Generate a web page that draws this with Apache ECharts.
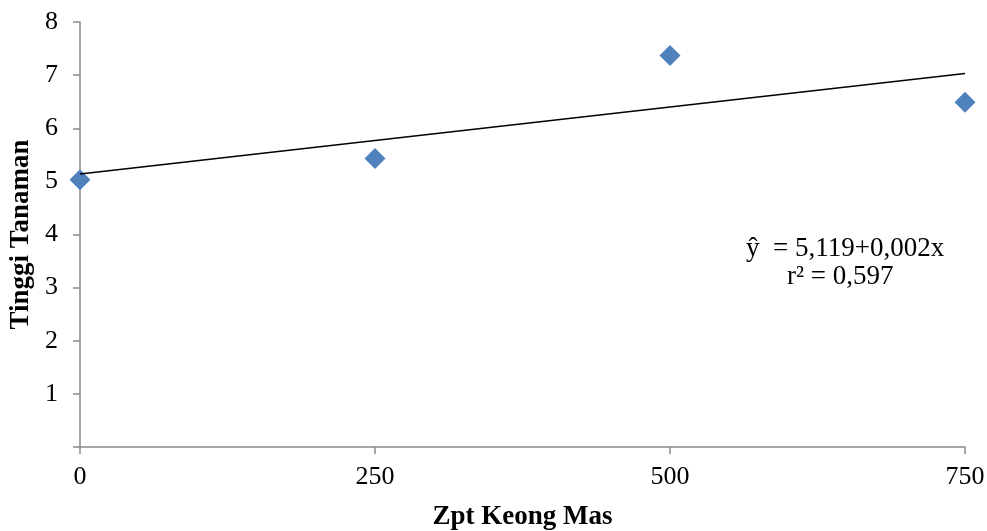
<!DOCTYPE html>
<html>
<head>
<meta charset="utf-8">
<script src="https://cdn.jsdelivr.net/npm/echarts@6/dist/echarts.min.js"></script>
<style>html,body{margin:0;padding:0;background:#fff}#c{width:987px;height:531px}</style>
</head>
<body>
<div id="c"></div>
<script>
var xValues = [0, 250, 500, 750];
var yValues = [5.03, 5.43, 7.37, 6.49];
var trendX = [0, 750];
var trendY = [5.14, 7.03];
var xTitle = 'Zpt Keong Mas';
var yTitle = 'Tinggi Tanaman';
var eqLine1 = 'ŷ  = 5,119+0,002x';
var eqLine2 = 'r² = 0,597';

var font = '"Liberation Serif","Times New Roman",serif';
var chart = echarts.init(document.getElementById('c'));
var axisGrey = '#898989';
chart.setOption({
  animation: false,
  backgroundColor: '#fff',
  grid: {left: 80, right: 22, top: 22, bottom: 84, containLabel: false, outerBoundsMode: 'none'},
  xAxis: {
    type: 'value', min: 0, max: 750, interval: 250,
    name: xTitle, nameLocation: 'middle', nameGap: 57,
    nameTextStyle: {fontFamily: font, fontSize: 27, fontWeight: 'bold', color: '#000'},
    axisLine: {show: true, onZero: false, lineStyle: {color: axisGrey, width: 1.5}},
    axisTick: {show: true, length: 7, lineStyle: {color: axisGrey, width: 1.5}},
    axisLabel: {fontFamily: font, fontSize: 26, color: '#000', margin: 17},
    splitLine: {show: false}
  },
  yAxis: {
    type: 'value', min: 0, max: 8, interval: 1,
    name: yTitle, nameLocation: 'middle', nameGap: 44, nameRotate: 90,
    nameTextStyle: {fontFamily: font, fontSize: 27, fontWeight: 'bold', color: '#000'},
    axisLine: {show: true, lineStyle: {color: axisGrey, width: 1.5}},
    axisTick: {show: true, length: 7, lineStyle: {color: axisGrey, width: 1.5}},
    axisLabel: {fontFamily: font, fontSize: 26, color: '#000', margin: 22,
      formatter: function (v) { return v === 0 ? '' : String(v); }},
    splitLine: {show: false}
  },
  series: [
    {
      type: 'line',
      data: trendX.map(function (x, i) { return [x, trendY[i]]; }),
      showSymbol: false, symbol: 'none',
      lineStyle: {color: '#000', width: 1.5},
      z: 3
    },
    {
      type: 'scatter',
      data: xValues.map(function (x, i) { return [x, yValues[i]]; }),
      symbol: 'diamond', symbolSize: 21,
      itemStyle: {color: '#4F81BD', opacity: 1},
      z: 2
    }
  ],
  graphic: [
    {type: 'text', left: 746, top: 235,
      style: {text: eqLine1, font: '27px ' + font, fill: '#000'}},
    {type: 'text', left: 787, top: 263,
      style: {text: eqLine2, font: '27px ' + font, fill: '#000'}}
  ]
});
</script>
</body>
</html>
